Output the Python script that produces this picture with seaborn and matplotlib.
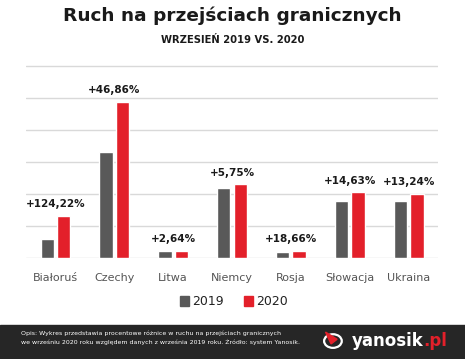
import matplotlib
matplotlib.use("Agg")
import matplotlib.pyplot as plt
import seaborn as sns
import pandas as pd
from matplotlib.patches import Rectangle, Circle, Polygon, Patch

countries = ["Białoruś", "Czechy", "Litwa", "Niemcy", "Rosja", "Słowacja", "Ukraina"]
traffic_2019 = [0.59, 3.32, 0.22, 2.18, 0.19, 1.79, 1.78]
traffic_2020 = [1.32, 4.88, 0.23, 2.30, 0.23, 2.05, 2.01]
change_labels = ["+124,22%", "+46,86%", "+2,64%", "+5,75%", "+18,66%", "+14,63%", "+13,24%"]
years = ["2019", "2020"]
colors = ["#595959", "#e3202a"]

df = pd.DataFrame({
    "kraj": countries * 2,
    "rok": [years[0]] * len(countries) + [years[1]] * len(countries),
    "ruch": traffic_2019 + traffic_2020,
})

sns.set_theme(style="white")
plt.rcParams["font.family"] = ["DejaVu Sans"]

fig = plt.figure(figsize=(4.65, 3.59), dpi=100)
ax = fig.add_axes([0.056, 0.2813, 0.886, 0.5526])

sns.barplot(data=df, x="kraj", y="ruch", hue="rok", palette=colors,
            width=0.56, gap=0.19, saturation=1, ax=ax, legend=False)

# percent change above each group
for i, lab in enumerate(change_labels):
    top = max(traffic_2019[i], traffic_2020[i])
    ax.annotate(lab, xy=(i, top), xytext=(0, 8.5), textcoords="offset points",
                ha="center", va="center", fontsize=7.5, fontweight="bold", color="#1a1a1a")

ax.set_xlim(-0.5, len(countries) - 0.5)
ax.set_ylim(0, 6.2)
ax.set_yticks(range(7))
ax.set_yticklabels([])
ax.yaxis.grid(True, color="#d9d9d9", lw=1)
ax.set_axisbelow(True)
ax.set_xlabel("")
ax.set_ylabel("")
ax.tick_params(axis="x", length=0, pad=11, labelsize=8, labelcolor="#555555")
ax.tick_params(axis="y", length=0)
for s in ax.spines.values():
    s.set_visible(False)

handles = [Patch(color=c, label=y) for c, y in zip(colors, years)]
fig.legend(handles=handles, loc="center", bbox_to_anchor=(0.503, 0.159), ncol=2,
           frameon=False, handlelength=0.75, handleheight=0.75, handletextpad=0.25,
           columnspacing=1.6, fontsize=9, labelcolor="#222222")

fig.text(0.5, 0.957, "Ruch na przejściach granicznych", ha="center", va="center",
         fontsize=13.3, fontweight="bold", color="#1a1a1a")
fig.text(0.5, 0.888, "WRZESIEŃ 2019 VS. 2020", ha="center", va="center",
         fontsize=7.2, fontweight="bold", color="#1a1a1a")

# footer band
fig.patches.append(Rectangle((0, 0), 1, 1 - 325 / 359, transform=fig.transFigure,
                             color="#262626", zorder=0))
fig.text(0.045, 0.058,
         "Opis: Wykres przedstawia procentowe różnice w ruchu na przejściach granicznych\n"
         "we wrześniu 2020 roku względem danych z września 2019 roku. Źródło: system Yanosik.",
         ha="left", va="center", fontsize=4.5, color="white", linespacing=1.6)

# logo
fig.patches.append(Circle((0.716, 0.05), 0.019, transform=fig.transFigure,
                          facecolor="#262626", edgecolor="white", lw=1.6))
fig.patches.append(Polygon([(0.700, 0.075), (0.725, 0.055), (0.712, 0.042)],
                           closed=True, transform=fig.transFigure, color="#e3202a"))
fig.text(0.91, 0.05, "yanosik", ha="right", va="center", fontsize=12,
         fontweight="bold", color="white")
fig.text(0.91, 0.05, ".pl", ha="left", va="center", fontsize=12,
         fontweight="bold", color="#e3202a")

fig.savefig("out.png", dpi=100)
